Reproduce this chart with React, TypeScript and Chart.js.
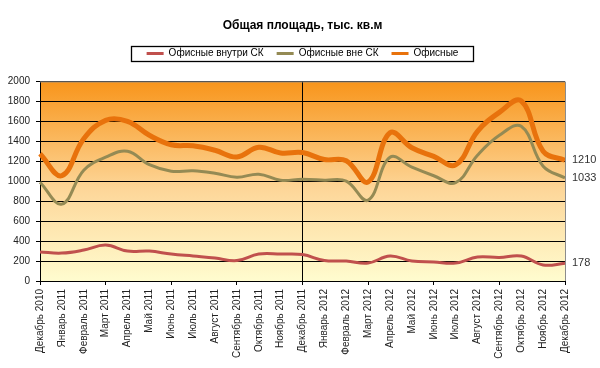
import React, { useEffect, useRef } from "react";
import { Chart, registerables } from "chart.js";

Chart.register(...registerables);

const TITLE = "Общая площадь, тыс. кв.м";

const months: string[] = [
  "Декабрь 2010", "Январь 2011", "Февраль 2011", "Март 2011", "Апрель 2011",
  "Май 2011", "Июнь 2011", "Июль 2011", "Август 2011", "Сентябрь 2011",
  "Октябрь 2011", "Ноябрь 2011", "Декабрь 2011", "Январь 2012", "Февраль 2012",
  "Март 2012", "Апрель 2012", "Май 2012", "Июнь 2012", "Июль 2012",
  "Август 2012", "Сентябрь 2012", "Октябрь 2012", "Ноябрь 2012", "Декабрь 2012",
];

const insideSK: number[] = [
  290, 280, 310, 360, 300, 300, 270, 250, 230, 205, 270, 270, 265,
  205, 200, 180, 250, 200, 190, 180, 240, 235, 250, 160, 178,
];

const outsideSK: number[] = [
  990, 770, 1110, 1240, 1300, 1165, 1100, 1105, 1080, 1040, 1070, 1010, 1020,
  1010, 1000, 810, 1240, 1140, 1055, 985, 1260, 1460, 1550, 1150, 1033,
];

const offices: number[] = [
  1275, 1055, 1425, 1610, 1600, 1460, 1365, 1355, 1310, 1243, 1340, 1283, 1287,
  1217, 1205, 992, 1485, 1335, 1248, 1163, 1500, 1690, 1805, 1300, 1210,
];

const seriesNames = ["Офисные внутри СК", "Офисные вне СК", "Офисные"];
const seriesColors = ["#C0504D", "#948A54", "#E8720C"];
const seriesWidths = [3, 3, 5];

const yMin = 0;
const yMax = 2000;
const yStep = 200;

const bgPlugin = {
  id: "plotBackground",
  beforeDraw(chart: any) {
    const { ctx, chartArea } = chart;
    if (!chartArea) return;
    const g = ctx.createLinearGradient(0, chartArea.top, 0, chartArea.bottom);
    g.addColorStop(0, "#F8951B");
    g.addColorStop(0.55, "#FDD79A");
    g.addColorStop(1, "#FFFCCF");
    ctx.save();
    ctx.fillStyle = g;
    ctx.fillRect(chartArea.left, chartArea.top, chartArea.right - chartArea.left, chartArea.bottom - chartArea.top);
    ctx.restore();
  },
  afterDraw(chart: any) {
    const { ctx, chartArea } = chart;
    ctx.save();
    ctx.strokeStyle = "#8C8C8C";
    ctx.lineWidth = 1;
    ctx.beginPath();
    ctx.moveTo(chartArea.left, chartArea.top + 0.5);
    ctx.lineTo(Math.round(chartArea.right) + 0.5, chartArea.top + 0.5);
    ctx.lineTo(Math.round(chartArea.right) + 0.5, chartArea.bottom);
    ctx.stroke();
    const legend = chart.legend;
    if (legend && legend.legendHitBoxes && legend.legendHitBoxes.length) {
      const hb = legend.legendHitBoxes;
      const first = hb[0];
      const last = hb[hb.length - 1];
      const left = Math.round(first.left - 16) + 0.5;
      const right = Math.round(last.left + last.width + 15) + 0.5;
      const top = Math.round(first.top - 2) + 0.5;
      const bottom = Math.round(first.top + first.height + 3) + 0.5;
      ctx.strokeStyle = "#000";
      ctx.lineWidth = 1.3;
      ctx.strokeRect(left, top, right - left, bottom - top);
    }
    ctx.restore();
  },
};

const endLabelPlugin = {
  id: "endLabels",
  afterDatasetsDraw(chart: any) {
    const { ctx } = chart;
    ctx.save();
    ctx.font = "11px Arial, 'Liberation Sans', sans-serif";
    ctx.fillStyle = "#333";
    ctx.textAlign = "left";
    ctx.textBaseline = "middle";
    chart.data.datasets.forEach((ds: any, i: number) => {
      const meta = chart.getDatasetMeta(i);
      const pts = meta.data;
      const p = pts[pts.length - 1];
      const v = ds.data[ds.data.length - 1];
      ctx.fillText(String(v), p.x + 7, p.y);
    });
    ctx.restore();
  },
};

export default function App() {
  const ref = useRef<HTMLCanvasElement>(null);

  useEffect(() => {
    document.body.style.margin = "0";
    const canvas = ref.current;
    if (!canvas) return;
    const font = "Arial, 'Liberation Sans', sans-serif";
    const datasets = [insideSK, outsideSK, offices].map((d, i) => ({
      label: seriesNames[i],
      data: d,
      borderColor: seriesColors[i],
      backgroundColor: seriesColors[i],
      borderWidth: seriesWidths[i],
      pointRadius: 0,
      pointHoverRadius: 0,
      tension: 0.4,
      fill: false,
    }));
    const chart = new Chart(canvas, {
      type: "line",
      data: { labels: months, datasets },
      options: {
        responsive: false,
        animation: false,
        layout: { padding: { left: 0, right: 35, top: 0, bottom: 0 } },
        plugins: {
          title: {
            display: true,
            fullSize: false,
            text: TITLE,
            color: "#000",
            font: { family: font, size: 12, weight: "bold" },
            padding: { top: 18, bottom: 3 },
          },
          legend: {
            display: true,
            fullSize: false,
            position: "top",
            labels: {
              color: "#000",
              font: { family: font, size: 10 },
              boxWidth: 17,
              boxHeight: 3,
              padding: 13,
              generateLabels: (c: any) =>
                (Chart.defaults.plugins.legend.labels.generateLabels as any)(c).map((l: any) => ({
                  ...l,
                  lineWidth: 0,
                  fillStyle: seriesColors[l.datasetIndex],
                  strokeStyle: seriesColors[l.datasetIndex],
                })),
            },
          },
          tooltip: { enabled: false },
        },
        scales: {
          xTop: {
            type: "category",
            axis: "x",
            position: "top",
            display: true,
            grid: { display: false },
            border: { display: false },
            ticks: { display: false },
            afterFit: (s: any) => {
              s.height = 13;
            },
          },
          x: {
            type: "category",
            position: "bottom",
            offset: false,
            grid: {
              display: true,
              drawOnChartArea: true,
              color: (c: any) => (c.index === 12 ? "#000" : "rgba(0,0,0,0)"),
              tickColor: (c: any) => (c.index % 3 === 0 ? "#000" : "rgba(0,0,0,0)"),
              tickLength: 4,
              lineWidth: 1,
            },
            border: { display: true, color: "#000", width: 1 },
            ticks: {
              autoSkip: false,
              maxRotation: 90,
              minRotation: 90,
              padding: 4,
              color: "#222",
              font: { family: font, size: 10 },
            },
            afterFit: (s: any) => {
              s.height = 87;
            },
          },
          y: {
            type: "linear",
            position: "left",
            min: yMin,
            max: yMax,
            grid: {
              color: "#000",
              lineWidth: 1,
              tickLength: 4,
              tickColor: "#000",
            },
            border: { display: true, color: "#000", width: 1 },
            ticks: {
              stepSize: yStep,
              padding: 6,
              color: "#222",
              font: { family: font, size: 10 },
              callback: (v: any) => String(v),
            },
            afterFit: (s: any) => {
              s.width = 40;
            },
          },
        },
      },
      plugins: [bgPlugin, endLabelPlugin],
    } as any);
    return () => chart.destroy();
  }, []);

  return (
    <div style={{ width: 600, height: 368, background: "#fff" }}>
      <canvas ref={ref} width={600} height={368} style={{ display: "block" }} />
    </div>
  );
}
